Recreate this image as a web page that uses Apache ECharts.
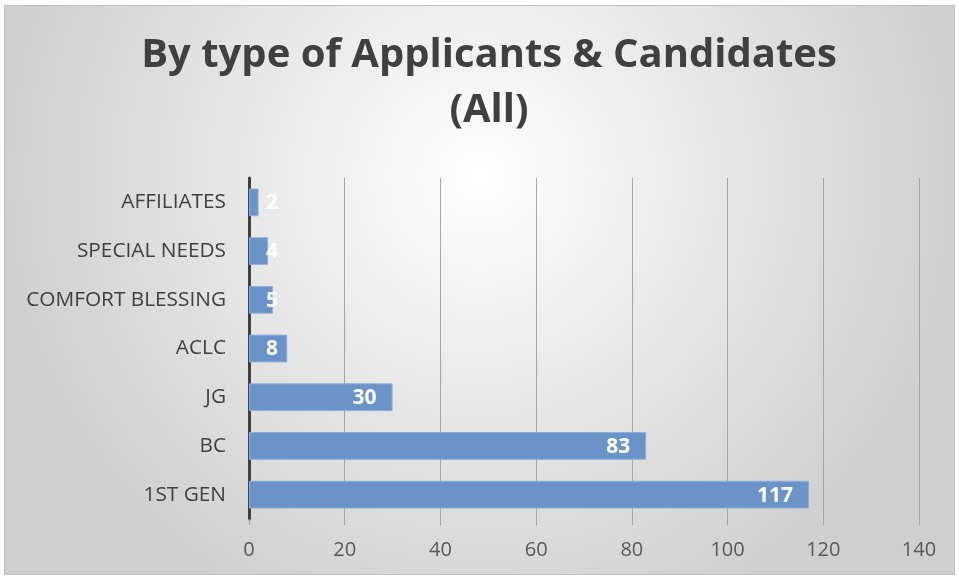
<!DOCTYPE html>
<html>
<head>
<meta charset="utf-8">
<script src="https://cdn.jsdelivr.net/npm/echarts@6/dist/echarts.min.js"></script>
<style>
html, body { margin: 0; padding: 0; background: #fff; }
#chart { position: absolute; left: 4px; top: 5px; width: 951px; height: 570px; box-sizing: border-box; border: 1px solid #bfbfbf; }
</style>
</head>
<body>
<div id="chart"></div>
<script>
// categories bottom -> top
const categories = ['1ST GEN', 'BC', 'JG', 'ACLC', 'COMFORT BLESSING', 'SPECIAL NEEDS', 'AFFILIATES']
const counts = [117, 83, 30, 8, 5, 4, 2]

// short bars get their label anchored from the axis side, like the original
const barData = counts.map(function (v) {
    if (v < 10) {
        return { value: v, label: { position: 'insideLeft', offset: [12, 1] } }
    }
    return v
})

const chart = echarts.init(document.getElementById('chart'))
chart.setOption({
    backgroundColor: {
        type: 'radial', x: 0.5, y: 0.3, r: 0.85,
        colorStops: [
            { offset: 0, color: '#ffffff' },
            { offset: 1, color: '#cfcfcf' }
        ]
    },
    title: {
        text: 'By type of Applicants & Candidates\n(All)',
        left: 484,
        top: 22,
        padding: 0,
        textAlign: 'center',
        textStyle: {
            fontFamily: 'Open Sans',
            fontWeight: 'bold',
            fontSize: 40,
            lineHeight: 55,
            color: '#404040'
        }
    },
    grid: { left: 244, right: 35, top: 172, bottom: 55, containLabel: false },
    xAxis: {
        type: 'value',
        min: 0, max: 140, interval: 20,
        axisLine: { show: false },
        axisTick: { show: true, length: 6, lineStyle: { color: '#a6a6a6' } },
        splitLine: { lineStyle: { color: '#a6a6a6', width: 1 } },
        axisLabel: { color: '#595959', fontSize: 20, fontFamily: 'Open Sans', margin: 21 }
    },
    yAxis: {
        type: 'category',
        data: categories,
        axisLine: { lineStyle: { color: '#404040', width: 3 } },
        axisTick: { show: false },
        axisLabel: { color: '#404040', fontSize: 20.8, fontFamily: 'Open Sans', margin: 23 }
    },
    series: [{
        type: 'bar',
        data: barData,
        barCategoryGap: '43%',
        itemStyle: { color: '#6a93c8', borderColor: '#8fb0da', borderWidth: 1 },
        label: {
            show: true,
            position: 'insideRight',
            color: '#ffffff',
            fontWeight: 'bold',
            fontSize: 21,
            fontFamily: 'Open Sans',
            offset: [-11, 1]
        }
    }]
})
</script>
</body>
</html>
